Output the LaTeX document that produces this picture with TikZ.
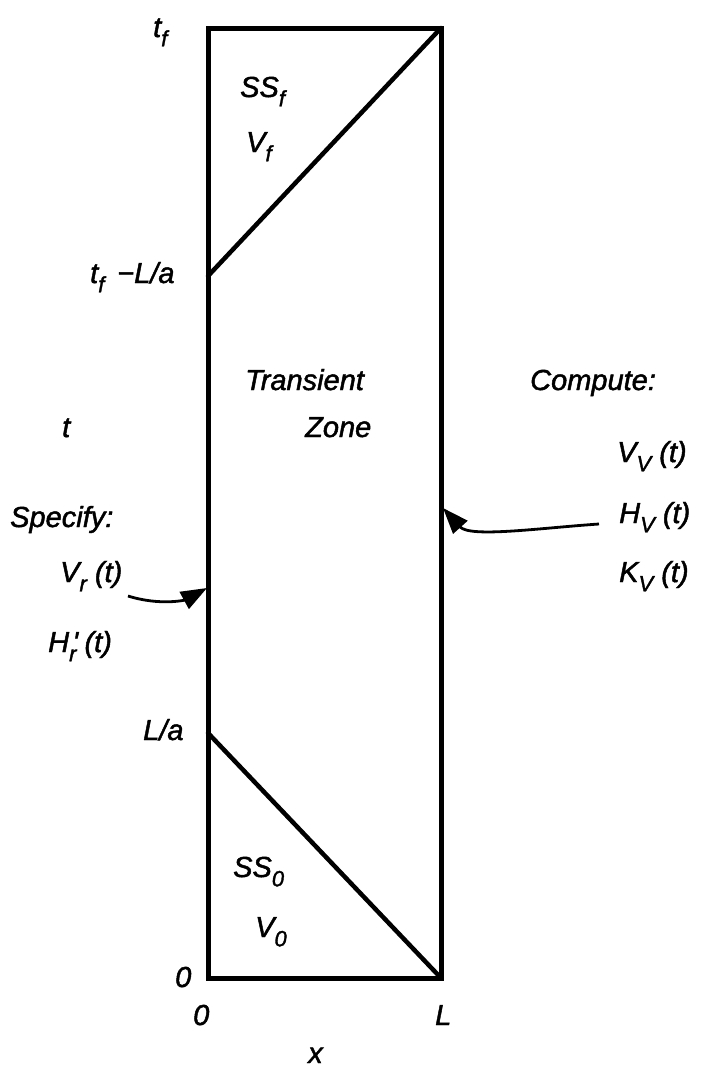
\documentclass[tikz,border=0pt]{standalone}
\usepackage{fontspec}
\setmainfont{Liberation Sans}
\newfontface\lett{Liberation Sans Italic}[FakeBold=1.6]
\usetikzlibrary{arrows.meta}
\newcommand\lsub[1]{\raisebox{-0.32em}{\fontsize{22}{22}\selectfont #1}}
\begin{document}
\begin{tikzpicture}[x=1pt,y=-1pt,
  lab/.style={anchor=base west,inner sep=0pt,font=\fontsize{29}{34}\lett},
  frame/.style={line width=5pt},
  diag/.style={line width=4.5pt,line cap=round},
  flow/.style={line width=2.8pt,-{Triangle[length=26pt,width=19pt]}}]
\useasboundingbox (0,0) rectangle (705,1068);
% frame
\coordinate (BL) at (208,978);
\coordinate (TR) at (441,28);
\coordinate (TL) at (208,28);
\coordinate (BR) at (441,978);
\draw[frame] (BL) rectangle (TR);
\coordinate (Up) at (208,276);
\coordinate (Lo) at (208,733);
\draw[diag] (Up) -- (TR);
\draw[diag] (Lo) -- (BR);
% labels
\node[lab] (tf) at (153,37) {t\lsub{f}};
\node[lab] (ssf) at (240,97) {SS\lsub{f}};
\node[lab] (vf) at (246,152) {V\lsub{f}};
\node[lab] (tfla) at (90,283) {t\lsub{f} \,−L/a};
\node[lab] (tr) at (245,390) {Transient};
\node[lab] (zone) at (305,437) {Zone};
\node[lab] (t) at (62,437) {t};
\node[lab] (comp) at (530,390) {Compute:};
\node[lab] (vv) at (617,462) {V\lsub{V} (t)};
\node[lab] (hv) at (619,523) {H\lsub{V} (t)};
\node[lab] (kv) at (619,582) {K\lsub{V} (t)};
\node[lab] (spec) at (10,527) {Specify:};
\node[lab] (vr) at (60,582) {V\lsub{r} (t)};
\node[lab] (hr) at (48,652) {H\rlap{\kern0.12em'}\lsub{r} (t)};
\node[lab] (la) at (143,740) {L/a};
\node[lab] (ss0) at (233,877) {SS\lsub{0}};
\node[lab] (v0) at (255,937) {V\lsub{0}};
\node[lab] (o1) at (175,987) {0};
\node[lab] (o2) at (193,1025) {0};
\node[lab] (ll) at (435,1025) {L};
\node[lab] (xx) at (308,1063) {x};
% arrows
\coordinate (a1s) at (128,596);
\coordinate (a1e) at (207,588);
\draw[flow] (a1s) .. controls (160,606) and (185,600) .. (a1e);
\coordinate (a2s) at (599,524);
\coordinate (a2e) at (443,508);
\draw[flow] (a2s) .. controls (540,528) and (470,538) .. (a2e);
\end{tikzpicture}
\end{document}
